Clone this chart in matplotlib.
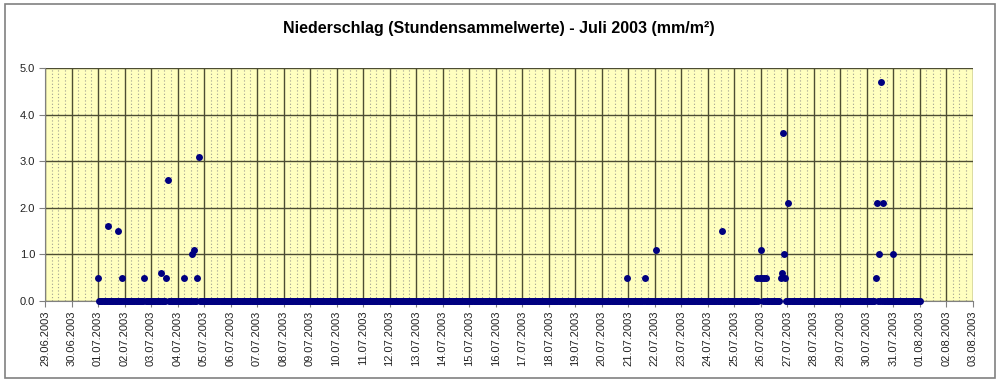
import pandas as pd
import matplotlib
matplotlib.use("Agg")
import matplotlib.pyplot as plt
import matplotlib.dates as mdates
from matplotlib.patches import Rectangle

plt.rcParams['font.family'] = ['Liberation Sans', 'DejaVu Sans']

# hourly values, July 2003 (everything not listed is 0.0)
start = "2003-07-01 00:00"
end = "2003-08-01 00:00"

rain_times = [
    "2003-07-01 00:00", "2003-07-01 09:00", "2003-07-01 18:00", "2003-07-01 22:00",
    "2003-07-02 18:00", "2003-07-03 09:00", "2003-07-03 14:00", "2003-07-03 15:00",
    "2003-07-04 06:00", "2003-07-04 13:00", "2003-07-04 15:00", "2003-07-04 18:00",
    "2003-07-04 19:00",
    "2003-07-20 23:00", "2003-07-21 15:00", "2003-07-22 01:00", "2003-07-24 13:00",
    "2003-07-25 21:00", "2003-07-25 23:00", "2003-07-26 00:00", "2003-07-26 01:00",
    "2003-07-26 03:00", "2003-07-26 05:00",
    "2003-07-26 18:00", "2003-07-26 19:00", "2003-07-26 20:00", "2003-07-26 21:00",
    "2003-07-26 22:00", "2003-07-27 01:00",
    "2003-07-30 08:00", "2003-07-30 09:00", "2003-07-30 11:00", "2003-07-30 13:00",
    "2003-07-30 15:00", "2003-07-31 00:00",
]
rain_mm = [
    0.5, 1.6, 1.5, 0.5,
    0.5, 0.6, 0.5, 2.6,
    0.5, 1.0, 1.1, 0.5,
    3.1,
    0.5, 0.5, 1.1, 1.5,
    0.5, 0.5, 1.1, 0.5,
    0.5, 0.5,
    0.5, 0.6, 3.6, 1.0,
    0.5, 2.1,
    0.5, 2.1, 1.0, 4.7,
    2.1, 1.0,
]

y_ticks = [0.0, 1.0, 2.0, 3.0, 4.0, 5.0]

hours = pd.date_range(start, end, freq="h")
series = pd.Series(0.0, index=hours)
for t, v in zip(rain_times, rain_mm):
    series[pd.Timestamp(t)] = v

fig = plt.figure(figsize=(10, 3.82), dpi=100)
fig.patches.append(Rectangle((0.005, 0.011), 0.99, 0.979, transform=fig.transFigure,
                             fill=False, edgecolor="#808080", lw=1.2))
ax = fig.add_axes([0.045, 0.212, 0.9277, 0.610])
ax.set_facecolor("#FFFFC0")

ax.plot(series.index, series.values, linestyle="none", marker="o",
        markersize=5, markeredgewidth=0, color="#000080", zorder=3, clip_on=False)

ax.set_xlim(pd.Timestamp("2003-06-29"), pd.Timestamp("2003-08-03"))
ax.set_ylim(0, 5)
ax.set_yticks(y_ticks)
ax.set_yticklabels(["%.1f" % v for v in y_ticks])

ax.xaxis.set_major_locator(mdates.DayLocator())
ax.xaxis.set_major_formatter(mdates.DateFormatter("%d.%m.%Y"))
ax.xaxis.set_minor_locator(mdates.HourLocator(byhour=[6, 12, 18]))
plt.setp(ax.get_xticklabels(), rotation=90)

ax.grid(which="major", color="#4d4d33", lw=1, zorder=1)
ax.grid(which="minor", axis="x", color="#a0a090", lw=0.8, linestyle=(0, (1, 2)), zorder=1)
ax.set_axisbelow(True)

ax.tick_params(axis="both", which="major", labelsize=8, length=4, color="#808080",
               labelcolor="#222222", pad=3)
ax.tick_params(axis="x", which="minor", length=0)
for side in ["top", "right"]:
    ax.spines[side].set_visible(False)
for side in ["left", "bottom"]:
    ax.spines[side].set_color("#808080")

fig.text(0.499, 0.925, "Niederschlag (Stundensammelwerte) - Juli 2003 (mm/m²)",
         ha="center", va="center", fontsize=11.5, fontweight="bold")

fig.savefig("out.png", dpi=100)
